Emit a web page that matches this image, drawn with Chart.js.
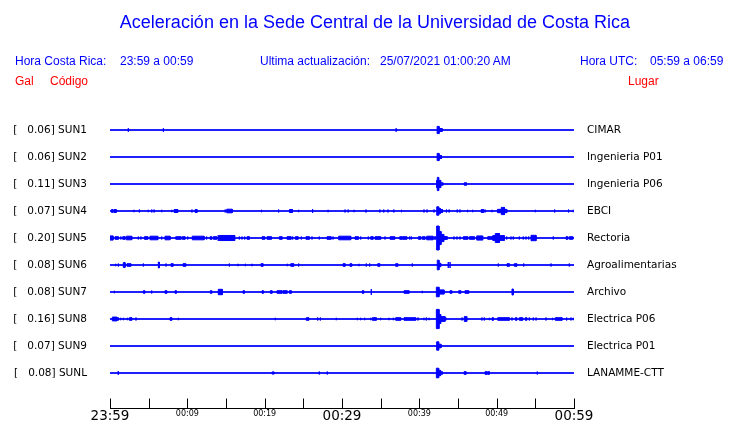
<!DOCTYPE html>
<html>
<head>
<meta charset="utf-8">
<script src="https://cdn.jsdelivr.net/npm/chart.js@4.4.1/dist/chart.umd.min.js"></script>
<style>
body { margin: 0; background: #fff; }
#wrap { position: relative; width: 740px; height: 423px; }
canvas { position: absolute; left: 0; top: 0; }
.t { position: absolute; font-family: "Liberation Sans", Arial, sans-serif; white-space: pre; }
.azul { color: #0000ff; font-size: 12px; }
.rojo { color: #ff0000; font-size: 12px; }
</style>
</head>
<body>
<div id="wrap">
  <canvas id="sismo" width="740" height="423"></canvas>
  <div class="t" style="left:5px;width:740px;text-align:center;top:12px;font-size:18px;color:#0000ff">Aceleración en la Sede Central de la Universidad de Costa Rica</div>
  <div class="t azul" style="left:15px;top:54px">Hora Costa Rica:</div>
  <div class="t azul" style="left:120px;top:54px">23:59 a 00:59</div>
  <div class="t azul" style="left:260px;top:54px">Ultima actualización:</div>
  <div class="t azul" style="left:380px;top:54px">25/07/2021 01:00:20 AM</div>
  <div class="t azul" style="left:580px;top:54px">Hora UTC:</div>
  <div class="t azul" style="left:650px;top:54px">05:59 a 06:59</div>
  <div class="t rojo" style="left:15px;top:74px">Gal</div>
  <div class="t rojo" style="left:50px;top:74px">Código</div>
  <div class="t rojo" style="left:628px;top:74px">Lugar</div>
</div>
<script>
// estaciones
const codigos = ["SUN1", "SUN2", "SUN3", "SUN4", "SUN5", "SUN6", "SUN7", "SUN8", "SUN9", "SUNL"];
const lugares = ["CIMAR", "Ingenieria P01", "Ingenieria P06", "EBCI", "Rectoria", "Agroalimentarias",
                 "Archivo", "Electrica P06", "Electrica P01", "LANAMME-CTT"];
const picos = [0.06, 0.06, 0.11, 0.07, 0.20, 0.08, 0.08, 0.16, 0.07, 0.08];

// eje de tiempo (minutos desde 23:59)
const marcas = [0, 5, 10, 15, 20, 25, 30, 35, 40, 45, 50, 55, 60];
const horasGrandes = [0, 30, 60];
const etiquetasGrandes = ["23:59", "00:29", "00:59"];
const horasChicas = [10, 20, 40, 50];
const etiquetasChicas = ["00:09", "00:19", "00:39", "00:49"];

// eventos por estacion: [minuto inicio, minuto fin, amplitud en gal]
const sun1 = [[2.37,2.37,0.03],[6.9,6.9,0.03],[37.0,37.0,0.03],[42.3,42.55,0.06],[42.55,42.95,0.025]];
const sun2 = [[42.3,42.55,0.06],[42.55,42.85,0.025]];
const sun3 = [[42.24,42.32,0.06],[42.32,42.5,0.11],[42.5,42.76,0.06],[42.76,43.06,0.02],[45.8,46.1,0.02]];
const sun4 = [[0.2,0.35,0.025],[0.5,0.8,0.025],[3.1,3.1,0.02],[3.8,3.8,0.025],[4.95,4.95,0.02],[5.4,5.4,0.025],
  [5.7,5.7,0.025],[6.7,6.7,0.02],[8.0,8.0,0.02],[8.3,8.75,0.025],[10.6,10.6,0.025],[11.0,11.25,0.025],
  [14.9,14.9,0.025],[15.1,15.8,0.03],[19.6,19.6,0.02],[21.8,21.8,0.025],[23.2,23.6,0.025],[24.4,24.4,0.02],
  [26.2,26.2,0.033],[28.2,28.2,0.02],[30.4,30.4,0.025],[30.8,30.8,0.025],[31.55,31.55,0.02],[33.1,33.1,0.025],
  [34.9,34.9,0.025],[35.4,35.4,0.025],[35.95,35.95,0.025],[36.7,36.7,0.025],[37.7,37.7,0.02],[40.6,40.6,0.025],
  [41.0,41.0,0.025],[41.9,41.9,0.025],[42.25,42.5,0.07],[42.5,42.7,0.045],[42.7,43.0,0.025],[43.5,43.5,0.025],
  [43.85,43.85,0.025],[44.9,44.9,0.025],[45.25,45.25,0.025],[46.25,46.25,0.02],[46.9,46.9,0.02],[48.0,48.3,0.025],
  [48.5,48.5,0.025],[49.4,49.4,0.02],[50.1,50.6,0.028],[50.6,51.0,0.06],[51.0,51.3,0.028],[55.0,55.0,0.02],
  [57.5,57.5,0.025],[59.3,59.3,0.025],[59.9,59.9,0.02]];
const sun5 = [[0,0.39,0.035],[0.65,1.07,0.022],[1.4,1.4,0.025],[1.64,1.94,0.022],[2.11,2.81,0.03],[3.66,3.66,0.025],
  [4.0,4.0,0.025],[4.44,4.88,0.022],[5.17,6.17,0.03],[6.69,6.69,0.025],[7.11,7.76,0.03],[8.5,9.18,0.022],
  [9.35,9.7,0.022],[10.05,10.05,0.025],[10.64,12.16,0.03],[12.5,12.5,0.025],[12.93,13.15,0.022],[13.36,13.8,0.022],
  [14.0,14.0,0.05],[14.13,16.12,0.042],[16.72,16.72,0.025],[17.07,17.07,0.025],[17.42,17.42,0.025],[17.72,18.01,0.022],
  [19.66,20.0,0.022],[20.3,20.86,0.022],[21.89,22.24,0.022],[22.89,23.41,0.022],[23.62,23.62,0.025],[23.96,24.31,0.022],
  [24.74,24.74,0.025],[25.34,25.77,0.022],[26.12,26.12,0.025],[27.06,27.06,0.025],[28.06,28.58,0.022],[28.84,28.84,0.025],
  [29.57,31.12,0.03],[31.68,32.11,0.022],[32.42,32.42,0.025],[33.4,33.4,0.025],[33.71,34.01,0.022],[34.27,35.0,0.022],
  [35.56,35.56,0.025],[36.21,36.81,0.022],[37.46,37.72,0.022],[37.8,38.37,0.022],[38.75,38.75,0.025],[38.96,38.96,0.025],
  [39.87,40.18,0.022],[40.38,40.73,0.022],[40.95,41.77,0.03],[42.03,42.03,0.033],
  [42.24,42.54,0.20],[42.54,42.8,0.11],[42.8,43.15,0.06],[43.15,43.5,0.025],
  [43.62,43.62,0.025],[44.48,44.48,0.025],[44.87,44.87,0.025],[45.26,45.26,0.025],[45.68,46.25,0.022],[46.46,47.11,0.022],
  [47.42,48.19,0.035],[48.84,49.49,0.022],[49.49,49.82,0.04],[49.82,50.34,0.075],[50.34,50.99,0.04],[51.3,51.3,0.025],
  [51.85,51.85,0.025],[52.15,52.15,0.025],[52.93,52.93,0.025],[53.44,53.44,0.025],[53.79,53.79,0.025],[54.14,54.14,0.025],
  [54.44,55.09,0.045],[57.32,57.32,0.025],[58.97,59.18,0.022],[59.39,59.83,0.022]];
const sun6 = [[0.73,0.73,0.02],[1.08,1.08,0.025],[1.72,1.94,0.04],[2.2,2.68,0.022],[4.31,4.31,0.025],[6.25,6.37,0.05],
  [7.24,7.24,0.025],[7.89,8.15,0.022],[9.44,9.79,0.022],[15.43,15.43,0.025],[16.55,16.55,0.02],[17.5,17.5,0.02],
  [18.36,18.36,0.02],[19.53,19.78,0.022],[22.93,22.93,0.02],[23.37,23.75,0.022],[24.4,24.4,0.025],[30.13,30.39,0.022],
  [31.03,31.25,0.022],[32.2,32.2,0.02],[33.14,33.14,0.025],[33.58,33.58,0.025],[34.62,34.87,0.022],[36.94,37.2,0.022],
  [39.09,39.09,0.025],[42.32,42.54,0.08],[42.54,42.76,0.03],[43.74,43.74,0.05],[43.97,43.97,0.05],[50.21,50.21,0.025],
  [51.34,51.63,0.022],[52.28,52.59,0.022],[53.5,53.5,0.025],[57.03,57.03,0.025],[59.39,59.39,0.025]];
const sun7 = [[0.56,0.56,0.02],[4.31,4.49,0.022],[5.39,5.39,0.025],[7.11,7.33,0.022],[8.41,8.57,0.022],[12.97,13.15,0.022],
  [14.0,14.52,0.045],[17.2,17.37,0.022],[19.66,19.82,0.022],[20.73,20.95,0.022],[21.59,22.24,0.022],[22.37,22.89,0.022],
  [23.19,23.44,0.022],[32.62,32.8,0.022],[33.79,33.79,0.05],[38.02,38.66,0.022],[40.38,40.38,0.02],[42.2,42.54,0.08],
  [42.54,43.19,0.035],[43.97,44.19,0.022],[45.09,45.35,0.022],[45.9,46.38,0.022],[51.98,52.15,0.05]];
const sun8 = [[0.3,0.91,0.032],[1.08,1.08,0.025],[1.38,1.38,0.02],[1.72,1.72,0.02],[2.24,2.24,0.02],[2.5,2.81,0.022],
  [3.36,3.36,0.025],[7.76,7.98,0.022],[8.83,8.83,0.02],[21.37,21.37,0.02],[25.38,25.69,0.022],[26.86,26.86,0.025],
  [27.2,27.2,0.025],[29.26,29.26,0.02],[31.98,31.98,0.02],[32.42,32.42,0.02],[32.93,32.93,0.02],[33.71,33.71,0.02],
  [33.92,34.43,0.022],[35.0,35.0,0.02],[36.08,36.08,0.02],[36.63,36.63,0.02],[36.94,37.59,0.022],[38.02,39.53,0.022],
  [39.83,39.83,0.025],[40.6,40.6,0.02],[40.9,40.9,0.025],[41.25,41.25,0.02],[42.2,42.54,0.16],[42.54,42.76,0.075],
  [42.76,43.32,0.04],[43.41,43.41,0.025],[45.52,45.52,0.025],[45.81,46.13,0.04],[48.1,48.1,0.025],[48.4,48.4,0.025],
  [49.05,49.05,0.02],[49.4,49.56,0.022],[50.13,51.63,0.022],[51.98,51.98,0.025],[52.41,52.59,0.022],[52.93,53.36,0.022],
  [53.7,53.88,0.022],[54.22,54.22,0.025],[54.74,54.74,0.025],[55.09,55.09,0.025],[56.38,56.38,0.025],[57.24,57.24,0.02],
  [57.58,58.45,0.022],[59.05,59.05,0.025],[59.61,59.61,0.025],[59.91,59.91,0.02]];
const sun9 = [[42.24,42.5,0.07],[42.5,42.8,0.03]];
const sunl = [[1.07,1.07,0.033],[20.95,21.21,0.018],[27.06,27.06,0.025],[28.1,28.1,0.025],[42.2,42.5,0.08],
  [42.5,42.75,0.045],[42.75,43.0,0.02],[45.78,46.03,0.022],[48.49,48.75,0.022],[48.85,49.05,0.022],[55.25,55.25,0.025]];

const trazas = [sun1, sun2, sun3, sun4, sun5, sun6, sun7, sun8, sun9, sunl];
const separacion = 0.45; // gal entre trazas

const bases = trazas.map((_, i) => -i * separacion);

// linea base de cada estacion
const lineasBase = bases.map(b => ({
  data: [{x: 0, y: b}, {x: 60, y: b}],
  borderColor: "#0000ff",
  borderWidth: 1.6,
  pointRadius: 0,
  fill: false
}));

// registros: cada evento es un rectangulo relleno (o una raya si dura un instante)
const registros = trazas.map((eventos, i) => {
  const b = bases[i];
  const puntos = [{x: 0, y: b}];
  eventos.forEach(([t0, t1, a]) => {
    puntos.push({x: t0, y: b}, {x: t0, y: b + a}, {x: t1, y: b + a},
                {x: t1, y: b - a}, {x: t0, y: b - a}, {x: t0, y: b});
  });
  puntos.push({x: 60, y: b});
  return {
    label: codigos[i],
    data: puntos,
    borderColor: "#0000ff",
    backgroundColor: "#0000ff",
    borderWidth: 1,
    pointRadius: 0,
    tension: 0,
    fill: "shape"
  };
});

function etiquetaGal(i) {
  return "[   " + picos[i].toFixed(2) + "] " + codigos[i];
}

// eje de tiempo dibujado abajo, con marcas hacia arriba
const ejeTiempo = {
  id: "ejeTiempo",
  afterDraw(chart) {
    const ctx = chart.ctx;
    const x = chart.scales.x;
    const y0 = 408.5;
    ctx.save();
    ctx.strokeStyle = "#000";
    ctx.lineWidth = 1;
    ctx.beginPath();
    ctx.moveTo(Math.round(x.getPixelForValue(0)), y0);
    ctx.lineTo(Math.round(x.getPixelForValue(60)) + 1, y0);
    marcas.forEach(m => {
      const px = Math.round(x.getPixelForValue(m)) + 0.5;
      ctx.moveTo(px, y0 - 10);
      ctx.lineTo(px, y0);
    });
    ctx.stroke();
    ctx.fillStyle = "#000";
    ctx.textAlign = "center";
    ctx.textBaseline = "middle";
    ctx.font = "13.5px 'DejaVu Sans'";
    horasGrandes.forEach((m, k) => ctx.fillText(etiquetasGrandes[k], x.getPixelForValue(m), 416));
    ctx.font = "8px 'DejaVu Sans'";
    horasChicas.forEach((m, k) => ctx.fillText(etiquetasChicas[k], x.getPixelForValue(m), 414));
    ctx.restore();
  }
};

// ancho fijo de las columnas de etiquetas y sin relleno extra arriba/abajo
function ajustar(ancho) {
  return s => { s.width = ancho; s.paddingTop = 0; s.paddingBottom = 0; };
}

Chart.defaults.font.family = "'DejaVu Sans', sans-serif";

new Chart(document.getElementById("sismo"), {
  type: "line",
  data: { datasets: lineasBase.concat(registros) },
  options: {
    responsive: false,
    animation: false,
    events: [],
    layout: { padding: { top: 103, bottom: 23, left: 0, right: 0 } },
    plugins: { legend: { display: false }, tooltip: { enabled: false } },
    scales: {
      x: { type: "linear", min: 0, max: 60, display: false },
      y: {
        type: "linear", position: "left", min: -4.5, max: 0.45,
        grid: { display: false, drawTicks: false },
        border: { display: false },
        afterBuildTicks: s => { s.ticks = bases.map(v => ({ value: v })); },
        afterFit: ajustar(110),
        ticks: {
          autoSkip: false, padding: 23, color: "#000", font: { size: 10.5 },
          callback: (v, i) => etiquetaGal(i)
        }
      },
      y2: {
        type: "linear", position: "right", min: -4.5, max: 0.45,
        grid: { display: false, drawTicks: false },
        border: { display: false },
        afterBuildTicks: s => { s.ticks = bases.map(v => ({ value: v })); },
        afterFit: ajustar(166),
        ticks: {
          autoSkip: false, padding: 13, color: "#000", font: { size: 10.5 },
          callback: (v, i) => lugares[i]
        }
      }
    }
  },
  plugins: [ejeTiempo]
});
</script>
</body>
</html>
